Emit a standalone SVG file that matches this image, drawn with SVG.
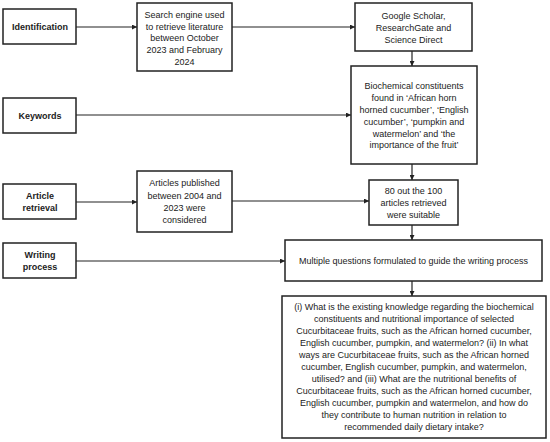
<svg xmlns="http://www.w3.org/2000/svg" width="550" height="442" viewBox="0 0 550 442">
<defs>
<style>
.box{fill:#fff;stroke:#222;stroke-width:1.5}
.t{font-family:"Liberation Sans",Arial,sans-serif;font-size:9px;fill:#222;text-anchor:middle}
.b{font-weight:bold}
.c{stroke:#222;stroke-width:1.2;fill:none}
</style>
<marker id="ah" viewBox="0 0 10 10" refX="10" refY="5" markerWidth="5" markerHeight="5" orient="auto" markerUnits="userSpaceOnUse">
<path d="M0,0 L10,5 L0,10 z" fill="#222"/>
</marker>
</defs>
<rect width="550" height="442" fill="#fff"/>
<g id="connectors">
<line class="c" x1="76" y1="27" x2="137" y2="27" marker-end="url(#ah)"/>
<line class="c" x1="232" y1="27" x2="355" y2="27" marker-end="url(#ah)"/>
<line class="c" x1="412" y1="51" x2="412" y2="66" marker-end="url(#ah)"/>
<line class="c" x1="76" y1="115" x2="351" y2="115" marker-end="url(#ah)"/>
<line class="c" x1="412" y1="164" x2="412" y2="180" marker-end="url(#ah)"/>
<line class="c" x1="76" y1="202" x2="137" y2="202" marker-end="url(#ah)"/>
<line class="c" x1="232" y1="201" x2="369" y2="201" marker-end="url(#ah)"/>
<line class="c" x1="412" y1="225" x2="412" y2="240" marker-end="url(#ah)"/>
<line class="c" x1="76" y1="261" x2="285" y2="261" marker-end="url(#ah)"/>
<line class="c" x1="412" y1="281" x2="412" y2="296" marker-end="url(#ah)"/>
</g>
<g id="identification">
<rect class="box" x="3" y="9" width="73" height="35"/>
<text class="t b" x="40" y="30">Identification</text>
</g>
<g id="search">
<rect class="box" x="137" y="3" width="95" height="68"/>
<text class="t" x="184.5" y="18.3">Search engine used</text>
<text class="t" x="184.5" y="29.8">to retrieve literature</text>
<text class="t" x="184.5" y="41.3">between October</text>
<text class="t" x="184.5" y="52.8">2023 and February</text>
<text class="t" x="184.5" y="64.8">2024</text>
</g>
<g id="google">
<rect class="box" x="355" y="3" width="117" height="48"/>
<text class="t" x="413.5" y="19.3">Google Scholar,</text>
<text class="t" x="413.5" y="31.3">ResearchGate and</text>
<text class="t" x="413.5" y="42.8">Science Direct</text>
</g>
<g id="keywords">
<rect class="box" x="3" y="98" width="73" height="35"/>
<text class="t b" x="40" y="119">Keywords</text>
</g>
<g id="biochem">
<rect class="box" x="351" y="66" width="126" height="98"/>
<text class="t" x="414" y="89.3">Biochemical constituents</text>
<text class="t" x="414" y="101.3">found in ‘African horn</text>
<text class="t" x="414" y="113.3">horned cucumber’, ‘English</text>
<text class="t" x="414" y="124.8">cucumber’, ‘pumpkin and</text>
<text class="t" x="414" y="136.5">watermelon’ and ‘the</text>
<text class="t" x="414" y="148.3">importance of the fruit’</text>
</g>
<g id="article-retrieval">
<rect class="box" x="3" y="184" width="73" height="35"/>
<text class="t b" x="40" y="199">Article</text>
<text class="t b" x="40" y="211">retrieval</text>
</g>
<g id="articles-published">
<rect class="box" x="137" y="171" width="95" height="61"/>
<text class="t" x="184.5" y="186.3">Articles published</text>
<text class="t" x="184.5" y="198.8">between 2004 and</text>
<text class="t" x="184.5" y="211">2023 were</text>
<text class="t" x="184.5" y="223">considered</text>
</g>
<g id="eighty">
<rect class="box" x="369" y="180" width="89" height="45"/>
<text class="t" x="413.5" y="194.3">80 out the 100</text>
<text class="t" x="413.5" y="206.3">articles retrieved</text>
<text class="t" x="413.5" y="217.8">were suitable</text>
</g>
<g id="writing-process">
<rect class="box" x="3" y="243" width="73" height="35"/>
<text class="t b" x="40" y="258">Writing</text>
<text class="t b" x="40" y="270">process</text>
</g>
<g id="multiple">
<rect class="box" x="285" y="240" width="257" height="41"/>
<text class="t" x="413.5" y="264.3">Multiple questions formulated to guide the writing process</text>
</g>
<g id="questions">
<rect class="box" x="282" y="296" width="264" height="142"/>
<text class="t" x="414" y="310.3">(i) What is the existing knowledge regarding the biochemical</text>
<text class="t" x="414" y="322.3">constituents and nutritional importance of selected</text>
<text class="t" x="414" y="334.3">Cucurbitaceae fruits, such as the African horned cucumber,</text>
<text class="t" x="414" y="346.3">English cucumber, pumpkin, and watermelon? (ii) In what</text>
<text class="t" x="414" y="358.3">ways are Cucurbitaceae fruits, such as the African horned</text>
<text class="t" x="414" y="370.3">cucumber, English cucumber, pumpkin, and watermelon,</text>
<text class="t" x="414" y="382.3">utilised? and (iii) What are the nutritional benefits of</text>
<text class="t" x="414" y="394.3">Cucurbitaceae fruits, such as the African horned cucumber,</text>
<text class="t" x="414" y="406.3">English cucumber, pumpkin and watermelon, and how do</text>
<text class="t" x="414" y="418.3">they contribute to human nutrition in relation to</text>
<text class="t" x="414" y="430.3">recommended daily dietary intake?</text>
</g>
</svg>
